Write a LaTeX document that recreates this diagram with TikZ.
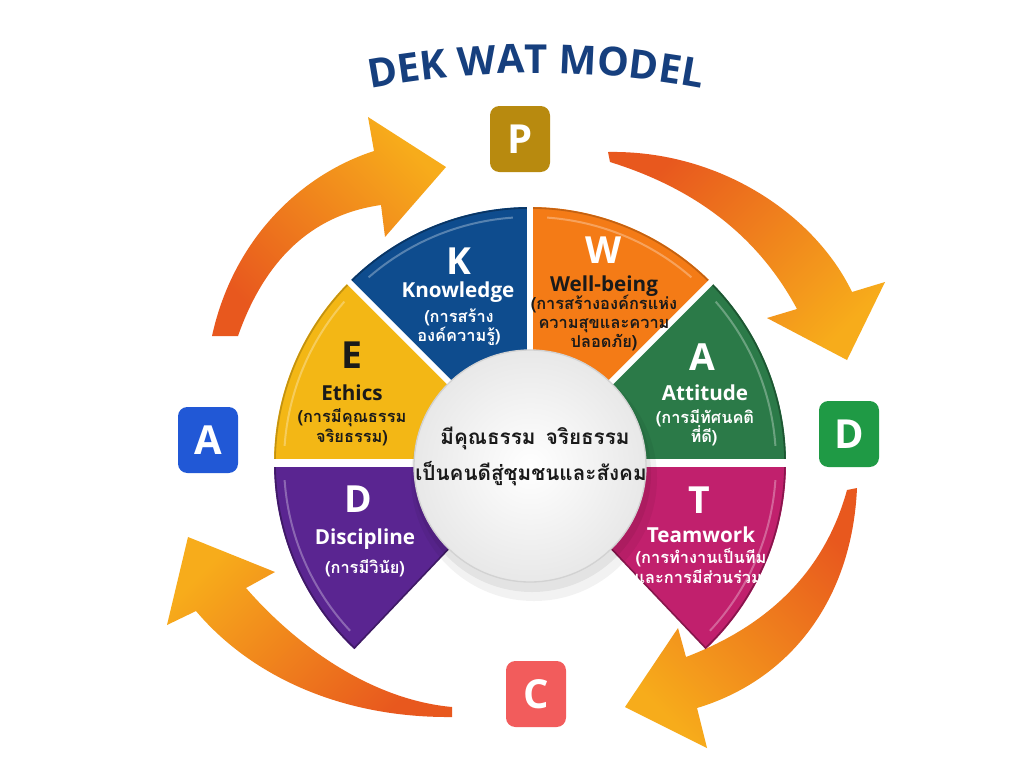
\documentclass[tikz,border=0pt]{standalone}
\usepackage{fontspec}
\setmainfont{Open Sans}
\newfontfamily\thai[Script=Thai]{Loma}
\usetikzlibrary{decorations.text}
\definecolor{titleblue}{HTML}{163F7E}
\definecolor{segE}{HTML}{F3B715}
\definecolor{segK}{HTML}{0E4C8E}
\definecolor{segW}{HTML}{F47B16}
\definecolor{segA}{HTML}{2B7A48}
\definecolor{segD}{HTML}{5A2591}
\definecolor{segT}{HTML}{C1206D}
\definecolor{boxP}{HTML}{B88A0F}
\definecolor{boxD}{HTML}{1F9A45}
\definecolor{boxA}{HTML}{2158D6}
\definecolor{boxC}{HTML}{F25C5C}
\definecolor{arrDark}{HTML}{E8581E}
\definecolor{arrLight}{HTML}{F7AC1B}
\definecolor{ink}{HTML}{1A1A1A}
\begin{document}
\begin{tikzpicture}[x=0.75pt,y=-0.75pt,
  letterbox/.style={rounded corners=7pt, minimum width=45pt, minimum height=49.5pt, text=white, font=\fontsize{30}{30}\selectfont\bfseries, inner sep=0pt},
  bigletter/.style={font=\fontsize{28}{28}\selectfont\bfseries, inner sep=0pt, anchor=base},
  word/.style={font=\fontsize{15.5}{16}\selectfont\bfseries, inner sep=0pt, anchor=base},
  thaisub/.style={font=\thai\bfseries\fontsize{12.3}{13}\selectfont, inner sep=0pt, anchor=base},
  hubtext/.style={font=\thai\bfseries\fontsize{15.5}{16}\selectfont, inner sep=0pt, anchor=base, text=ink},
  gap/.style={white, line width=4.5pt},
  rim/.style={line width=1.2pt},
  gloss/.style={white, opacity=0.3, line width=1.5pt},
]
\useasboundingbox (0,0) rectangle (1024,768);
\fill[white] (0,0) rectangle (1024,768);

% ---- cycle arrows ----
\shade[top color=arrLight, bottom color=arrDark, shading angle=-45]
  (212,336) .. controls (233,240) and (300,175) .. (374,151) -- (368,117) -- (446,167) -- (385,237) -- (381,205)
  .. controls (310,215) and (264,262) .. (238,336) -- cycle;
\shade[top color=arrDark, bottom color=arrLight, shading angle=45]
  (608,152) .. controls (720,150) and (815,215) .. (852,292) -- (885,282) -- (847,360) -- (767,318) -- (797,309)
  .. controls (760,240) and (700,190) .. (610,162) -- cycle;
\shade[top color=arrDark, bottom color=arrLight, shading angle=-45]
  (857,488) .. controls (852,600) and (790,680) .. (697,708) -- (707,748) -- (625,707) -- (678,628) -- (686,657)
  .. controls (770,625) and (825,570) .. (847,490) -- cycle;
\shade[top color=arrLight, bottom color=arrDark, shading angle=45]
  (452,717) .. controls (340,718) and (250,675) .. (196,611) -- (167,625) -- (188,537) -- (275,572) -- (246,588)
  .. controls (300,650) and (375,700) .. (452,707) -- cycle;

% ---- fan sectors ----
\coordinate (C) at (530,463);
\fill[segE] (C) -- ++(180:256) arc[start angle=180, end angle=225, radius=256] -- cycle;
\fill[segK] (C) -- ++(225:256) arc[start angle=225, end angle=270, radius=256] -- cycle;
\fill[segW] (C) -- ++(270:256) arc[start angle=270, end angle=315, radius=256] -- cycle;
\fill[segA] (C) -- ++(315:256) arc[start angle=315, end angle=360, radius=256] -- cycle;
\fill[segD] (C) -- ++(180:256) arc[start angle=180, end angle=133.5, radius=256] -- cycle;
\fill[segT] (C) -- ++(0:256) arc[start angle=0, end angle=46.5, radius=256] -- cycle;
\draw[rim, segE!80!black] (C) ++(180:255) arc[start angle=180, end angle=225, radius=255];
\draw[rim, segK!70!black] (C) ++(225:255) arc[start angle=225, end angle=270, radius=255];
\draw[rim, segW!80!black] (C) ++(270:255) arc[start angle=270, end angle=315, radius=255];
\draw[rim, segA!70!black] (C) ++(315:255) arc[start angle=315, end angle=360, radius=255];
\draw[rim, segD!70!black] (C) ++(180:255) arc[start angle=180, end angle=133.5, radius=255] -- (C);
\draw[rim, segT!70!black] (C) ++(0:255) arc[start angle=0, end angle=46.5, radius=255] -- (C);
\draw[gloss] (C) ++(184:246) arc[start angle=184, end angle=221, radius=246];
\draw[gloss] (C) ++(229:246) arc[start angle=229, end angle=266, radius=246];
\draw[gloss] (C) ++(274:246) arc[start angle=274, end angle=311, radius=246];
\draw[gloss] (C) ++(319:246) arc[start angle=319, end angle=356, radius=246];
\draw[gloss] (C) ++(176:246) arc[start angle=176, end angle=137, radius=246];
\draw[gloss] (C) ++(4:246) arc[start angle=4, end angle=43, radius=246];
\draw[gap] (C) -- ++(225:262);
\draw[gap] (C) -- ++(270:262);
\draw[gap] (C) -- ++(315:262);
\draw[white, line width=6.5pt] (C) ++(-262,0) -- ++(524,0);

% ---- hub ----
\fill[black, opacity=0.05] (534,478) circle (123);
\fill[black, opacity=0.06] (532,473) circle (119);
\node[circle, minimum size=174pt, inner sep=0pt, draw=gray!35, line width=1pt, inner color=white, outer color=gray!18] (hub) at (530,466) {};
\node[hubtext] (hub1) at (535,444) {มีคุณธรรม\hspace{0.5em}จริยธรรม};
\node[hubtext] (hub2) at (531,480) {เป็นคนดีสู่ชุมชนและสังคม};

% ---- sector labels ----
\node[bigletter, text=white] (kL) at (459,274) {K};
\node[word, text=white] (kW) at (458,297) {Knowledge};
\node[thaisub, text=white] (kT1) at (459,322) {(การสร้าง};
\node[thaisub, text=white] (kT2) at (459,341) {องค์ความรู้)};

\node[bigletter, text=white] (wL) at (604,263) {W};
\node[word, text=ink] (wW) at (604,291) {Well-being};
\node[thaisub, text=ink] (wT1) at (604,309) {(การสร้างองค์กรแห่ง};
\node[thaisub, text=ink] (wT2) at (604,328) {ความสุขและความ};
\node[thaisub, text=ink] (wT3) at (604,347) {ปลอดภัย)};

\node[bigletter, text=ink] (eL) at (352,368) {E};
\node[word, text=ink] (eW) at (352,400) {Ethics};
\node[thaisub, text=ink] (eT1) at (352,422) {(การมีคุณธรรม};
\node[thaisub, text=ink] (eT2) at (352,442) {จริยธรรม)};

\node[bigletter, text=white] (aL) at (702,370) {A};
\node[word, text=white] (aW) at (705,400) {Attitude};
\node[thaisub, text=white] (aT1) at (705,423) {(การมีทัศนคติ};
\node[thaisub, text=white] (aT2) at (704,442) {ที่ดี)};

\node[bigletter, text=white] (dL) at (358,512) {D};
\node[word, text=white] (dW) at (365,544) {Discipline};
\node[thaisub, text=white] (dT1) at (365,573) {(การมีวินัย)};

\node[bigletter, text=white] (tL) at (699,513) {T};
\node[word, text=white] (tW) at (701,542) {Teamwork};
\node[thaisub, text=white] (tT1) at (701,563) {(การทำงานเป็นทีม};
\node[thaisub, text=white] (tT2) at (701,583) {และการมีส่วนร่วม)};

% ---- PDCA boxes ----
\node[letterbox, fill=boxP] (P) at (520,139) {P};
\node[letterbox, fill=boxD] (Dbox) at (849,434) {D};
\node[letterbox, fill=boxA] (Abox) at (208,440) {A};
\node[letterbox, fill=boxC] (Cbox) at (536,694) {C};

% ---- title ----
\path[decorate, decoration={text along path, text align=center, text color=titleblue,
  text={|\fontsize{30}{30}\selectfont\bfseries|DEK WAT MODEL}}]
  (536,973) ++(-115:900) arc[start angle=-115, end angle=-65, radius=900];
\end{tikzpicture}
\end{document}
